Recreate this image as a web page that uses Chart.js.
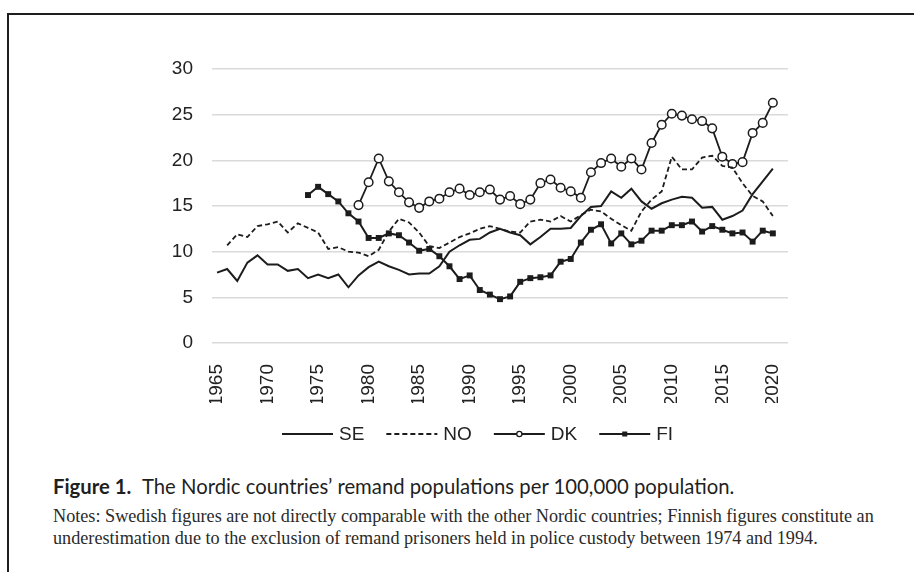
<!DOCTYPE html>
<html>
<head>
<meta charset="utf-8">
<script src="https://cdn.jsdelivr.net/npm/chart.js@4.4.1/dist/chart.umd.min.js"></script>
<style>
  html, body { margin: 0; padding: 0; background: #fff; }
  body { width: 914px; height: 572px; position: relative; overflow: hidden; }
  #frame { position: absolute; left: 7px; top: 13px; right: -4px; bottom: -4px; border-top: 2px solid #1e1e1e; border-left: 2px solid #1e1e1e; }
  #chart { position: absolute; left: 0; top: 0; }
  #caption { position: absolute; left: 53px; top: 474px; font-family: Lato, "Open Sans", sans-serif; font-size: 20.3px; line-height: 25px; color: #1f1f1f; white-space: nowrap; }
  #caption b { font-weight: 700; margin-right: 6px; }
  #notes { position: absolute; left: 53px; top: 506px; font-family: "Liberation Serif", serif; font-size: 18.2px; line-height: 21.5px; color: #2a2a2a; white-space: nowrap; }
</style>
</head>
<body>
<div id="frame"></div>
<canvas id="chart" width="914" height="450"></canvas>
<div id="caption"><b>Figure 1.</b> The Nordic countries’ remand populations per 100,000 population.</div>
<div id="notes">Notes: Swedish figures are not directly comparable with the other Nordic countries; Finnish figures constitute an<br>underestimation due to the exclusion of remand prisoners held in police custody between 1974 and 1994.</div>
<script>
// Years on the x axis
const years = [
  1965, 1966, 1967, 1968, 1969, 1970, 1971, 1972, 1973, 1974,
  1975, 1976, 1977, 1978, 1979, 1980, 1981, 1982, 1983, 1984,
  1985, 1986, 1987, 1988, 1989, 1990, 1991, 1992, 1993, 1994,
  1995, 1996, 1997, 1998, 1999, 2000, 2001, 2002, 2003, 2004,
  2005, 2006, 2007, 2008, 2009, 2010, 2011, 2012, 2013, 2014,
  2015, 2016, 2017, 2018, 2019, 2020
];
const xTicks = [1965, 1970, 1975, 1980, 1985, 1990, 1995, 2000, 2005, 2010, 2015, 2020];
const yTicks = [0, 5, 10, 15, 20, 25, 30];

// Remand populations per 100,000
const seriesSE = [
  7.7, 8.1, 6.8, 8.8, 9.6, 8.6, 8.6, 7.9, 8.1, 7.1,
  7.5, 7.1, 7.5, 6.1, 7.4, 8.3, 8.9, 8.4, 8.0, 7.5,
  7.6, 7.6, 8.4, 10.0, 10.7, 11.3, 11.4, 12.1, 12.5, 12.1,
  11.8, 10.8, 11.6, 12.5, 12.5, 12.6, 13.9, 14.9, 15.0, 16.6,
  15.9, 16.9, 15.5, 14.7, 15.3, 15.7, 16.0, 15.9, 14.8, 14.9,
  13.5, 13.9, 14.5, 16.3, 17.7, 19.1
];
const seriesNO = [
  null, 10.7, 11.9, 11.6, 12.8, 13.0, 13.3, 12.1, 13.1, 12.6,
  12.1, 10.3, 10.5, 10.0, 9.9, 9.5, 10.2, 12.2, 13.6, 13.2,
  12.1, 10.6, 10.4, 11.0, 11.6, 12.0, 12.5, 12.8, 12.5, 12.2,
  12.1, 13.3, 13.5, 13.3, 13.9, 13.3, 14.0, 14.6, 14.4, 13.6,
  12.9, 12.3, 14.4, 15.7, 16.6, 20.4, 19.0, 19.0, 20.3, 20.5,
  19.4, 19.2, 17.5, 16.1, 15.5, 13.9
];
const seriesDK = [
  null, null, null, null, null, null, null, null, null, null,
  null, null, null, null, 15.1, 17.6, 20.2, 17.7, 16.5, 15.4,
  14.8, 15.5, 15.8, 16.5, 16.9, 16.2, 16.5, 16.8, 15.7, 16.1,
  15.2, 15.7, 17.5, 17.9, 17.0, 16.6, 15.9, 18.7, 19.7, 20.2,
  19.3, 20.2, 19.0, 21.9, 23.9, 25.1, 24.9, 24.5, 24.3, 23.5,
  20.4, 19.6, 19.8, 23.0, 24.1, 26.3
];
const seriesFI = [
  null, null, null, null, null, null, null, null, null, 16.2,
  17.1, 16.3, 15.5, 14.2, 13.3, 11.5, 11.5, 12.0, 11.8, 11.0,
  10.1, 10.3, 9.5, 8.4, 7.0, 7.4, 5.8, 5.3, 4.8, 5.1,
  6.7, 7.1, 7.2, 7.4, 8.9, 9.2, 11.0, 12.4, 13.0, 10.9,
  12.0, 10.8, 11.2, 12.3, 12.3, 12.9, 12.9, 13.3, 12.2, 12.8,
  12.4, 12.0, 12.1, 11.1, 12.3, 12.0
];

const ink = '#1c1c1c';
const tickFont = { family: '"Liberation Sans", Arial, sans-serif', size: 19 };

// Legend drawn under the plot, line sample + marker + label
const legendPlugin = {
  id: 'figLegend',
  afterDraw(chart) {
    const ctx = chart.ctx;
    const y = 434;
    let x = 282;
    ctx.save();
    ctx.font = `${tickFont.size}px ${tickFont.family}`;
    ctx.textBaseline = 'middle';
    chart.data.datasets.forEach(ds => {
      ctx.strokeStyle = ink;
      ctx.lineWidth = 2;
      ctx.setLineDash(ds.borderDash || []);
      ctx.beginPath();
      ctx.moveTo(x, y);
      ctx.lineTo(x + 51, y);
      ctx.stroke();
      ctx.setLineDash([]);
      if (ds.pointRadius > 0) {
        const cx = x + 25.5;
        if (ds.pointStyle === 'rect') {
          ctx.fillStyle = ink;
          ctx.fillRect(cx - 2.5, y - 2.5, 5, 5);
        } else {
          ctx.fillStyle = '#fff';
          ctx.lineWidth = 1.3;
          ctx.beginPath();
          ctx.arc(cx, y, 2.6, 0, Math.PI * 2);
          ctx.fill();
          ctx.stroke();
        }
      }
      ctx.fillStyle = '#222';
      ctx.fillText(ds.label, x + 57, y + 1);
      x += 57 + ctx.measureText(ds.label).width + 22;
    });
    ctx.restore();
  }
};

new Chart(document.getElementById('chart').getContext('2d'), {
  type: 'line',
  data: {
    labels: years,
    datasets: [
      { label: 'SE', data: seriesSE, borderColor: ink, borderWidth: 2, pointRadius: 0 },
      { label: 'NO', data: seriesNO, borderColor: ink, borderWidth: 1.8, borderDash: [5, 3], pointRadius: 0 },
      { label: 'DK', data: seriesDK, borderColor: ink, borderWidth: 1.8, pointRadius: 4.3, pointStyle: 'circle',
        pointBackgroundColor: '#fff', pointBorderColor: ink, pointBorderWidth: 1.5 },
      { label: 'FI', data: seriesFI, borderColor: ink, borderWidth: 2, pointRadius: 4.2, pointStyle: 'rect',
        pointBackgroundColor: ink, pointBorderColor: ink, pointBorderWidth: 0 }
    ]
  },
  options: {
    responsive: false,
    animation: false,
    devicePixelRatio: 1,
    layout: { padding: { left: 0, right: 126, top: 69, bottom: 47 } },
    plugins: { legend: { display: false }, tooltip: { enabled: false } },
    elements: { line: { tension: 0 } },
    scales: {
      x: {
        type: 'linear',
        min: 1964.5,
        max: 2021.5,
        afterBuildTicks: s => { s.ticks = xTicks.map(v => ({ value: v })); },
        afterFit: s => { s.height = 60; },
        grid: { display: false },
        border: { display: false },
        ticks: {
          autoSkip: false, minRotation: 90, maxRotation: 90, padding: 13,
          color: '#222', font: tickFont, callback: v => String(v)
        }
      },
      y: {
        min: 0,
        max: 30,
        afterBuildTicks: s => { s.ticks = yTicks.map(v => ({ value: v })); },
        afterFit: s => { s.width = 212; },
        grid: { color: '#dadada', lineWidth: 1.5, drawTicks: false },
        border: { display: false },
        ticks: { padding: 19, color: '#222', font: tickFont }
      }
    }
  },
  plugins: [legendPlugin]
});
</script>
</body>
</html>
